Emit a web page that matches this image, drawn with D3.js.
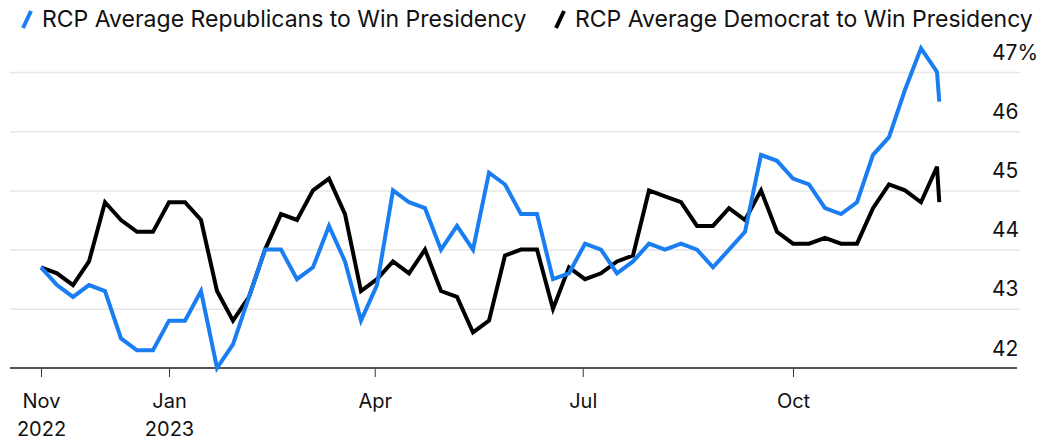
<!DOCTYPE html>
<html>
<head>
<meta charset="utf-8">
<script src="https://cdn.jsdelivr.net/npm/d3@7"></script>
<style>
  html, body { margin: 0; padding: 0; background: #fff; }
  svg { display: block; }
  text { font-family: Inter, "Liberation Sans", Arial, sans-serif; fill: #111; }
</style>
</head>
<body>
<svg id="chart" width="1057" height="441"></svg>
<script>
// Weekly RealClearPolitics polling averages, Nov 2022 – Dec 2023
const dates = [
  "2022-11-06","2022-11-13","2022-11-20","2022-11-27","2022-12-04","2022-12-11","2022-12-18","2022-12-25",
  "2023-01-01","2023-01-08","2023-01-15","2023-01-22","2023-01-29","2023-02-05","2023-02-12","2023-02-19",
  "2023-02-26","2023-03-05","2023-03-12","2023-03-19","2023-03-26","2023-04-02","2023-04-09","2023-04-16",
  "2023-04-23","2023-04-30","2023-05-07","2023-05-14","2023-05-21","2023-05-28","2023-06-04","2023-06-11",
  "2023-06-18","2023-06-25","2023-07-02","2023-07-09","2023-07-16","2023-07-23","2023-07-30","2023-08-06",
  "2023-08-13","2023-08-20","2023-08-27","2023-09-03","2023-09-10","2023-09-17","2023-09-24","2023-10-01",
  "2023-10-08","2023-10-15","2023-10-22","2023-10-29","2023-11-05","2023-11-12","2023-11-19","2023-11-26",
  "2023-12-03","2023-12-04"
];

const republicans = [
  43.7, 43.4, 43.2, 43.4, 43.3, 42.5, 42.3, 42.3,
  42.8, 42.8, 43.3, 42.0, 42.4, 43.2, 44.0, 44.0,
  43.5, 43.7, 44.4, 43.8, 42.8, 43.4, 45.0, 44.8,
  44.7, 44.0, 44.4, 44.0, 45.3, 45.1, 44.6, 44.6,
  43.5, 43.6, 44.1, 44.0, 43.6, 43.8, 44.1, 44.0,
  44.1, 44.0, 43.7, 44.0, 44.3, 45.6, 45.5, 45.2,
  45.1, 44.7, 44.6, 44.8, 45.6, 45.9, 46.7, 47.4,
  47.0, 46.5
];

const democrats = [
  43.7, 43.6, 43.4, 43.8, 44.8, 44.5, 44.3, 44.3,
  44.8, 44.8, 44.5, 43.3, 42.8, 43.2, 44.0, 44.6,
  44.5, 45.0, 45.2, 44.6, 43.3, 43.5, 43.8, 43.6,
  44.0, 43.3, 43.2, 42.6, 42.8, 43.9, 44.0, 44.0,
  43.0, 43.7, 43.5, 43.6, 43.8, 43.9, 45.0, 44.9,
  44.8, 44.4, 44.4, 44.7, 44.5, 45.0, 44.3, 44.1,
  44.1, 44.2, 44.1, 44.1, 44.7, 45.1, 45.0, 44.8,
  45.4, 44.8
];

const yTicks = [42, 43, 44, 45, 46, 47];
const xTickDates = ["2022-11-06", "2023-01-01", "2023-04-01", "2023-07-01", "2023-10-01"];
const xTickLabels = [["Nov", "2022"], ["Jan", "2023"], ["Apr"], ["Jul"], ["Oct"]];

const seriesNames = ["RCP Average Republicans to Win Presidency", "RCP Average Democrat to Win Presidency"];
const seriesColors = ["#1a7ef2", "#000000"];

const font = "Inter, 'Liberation Sans', Arial, sans-serif";
const parse = d3.utcParse("%Y-%m-%d");
const svg = d3.select("#chart");

const x = d3.scaleUtc()
  .domain([parse("2022-11-06"), parse("2023-10-01")])
  .range([41, 793]);
const y = d3.scaleLinear().domain([42, 47]).range([368, 72]);

// Horizontal gridlines with value labels sitting above each line
const yAxis = d3.axisRight(y)
  .tickValues(yTicks)
  .tickSize(1010)
  .tickFormat(d => d === 47 ? d + "%" : d);
const gy = svg.append("g").attr("transform", "translate(10,0)").call(yAxis);
gy.select(".domain").remove();
gy.selectAll(".tick line")
  .attr("stroke", d => d === 42 ? "none" : "#e6e6e6")
  .attr("stroke-width", 1.5);
gy.selectAll(".tick text")
  .attr("x", 982)
  .attr("dy", -13)
  .attr("text-anchor", "start")
  .style("font-size", "21px")
  .style("font-family", font)
  .attr("fill", "#111");

// Bottom axis
const xAxis = d3.axisBottom(x)
  .tickValues(xTickDates.map(parse))
  .tickSize(9)
  .tickFormat("");
const gx = svg.append("g").attr("transform", "translate(0,368)").call(xAxis);
gx.select(".domain").remove();
gx.selectAll(".tick line").attr("stroke", "#333").attr("stroke-width", 1);
svg.append("line")
  .attr("x1", 10).attr("x2", 1017)
  .attr("y1", y(42)).attr("y2", y(42))
  .attr("stroke", "#555").attr("stroke-width", 2);

gx.selectAll(".tick").each(function(d, i) {
  const t = d3.select(this).append("text")
    .attr("text-anchor", "middle")
    .style("font-size", "20px")
    .style("font-family", font)
    .attr("fill", "#111");
  xTickLabels[i].forEach((s, k) => {
    t.append("tspan").attr("x", 0).attr("y", 40 + k * 28).text(s);
  });
});

// Lines
const line = d3.line()
  .x(d => x(d.date))
  .y(d => y(d.value));

const series = [republicans, democrats].map((vals, s) => ({
  name: seriesNames[s],
  color: seriesColors[s],
  points: vals.map((v, i) => ({ date: parse(dates[i]), value: v }))
}));

svg.selectAll("path.series")
  .data(series.slice().reverse())
  .join("path")
  .attr("class", "series")
  .attr("fill", "none")
  .attr("stroke", d => d.color)
  .attr("stroke-width", 4)
  .attr("stroke-linejoin", "miter")
  .attr("d", d => line(d.points));

// Legend
const legendX = [20, 553];
const legend = svg.selectAll("g.legend")
  .data(series)
  .join("g")
  .attr("class", "legend")
  .attr("transform", (d, i) => `translate(${legendX[i]},0)`);
legend.append("line")
  .attr("x1", 3).attr("y1", 28)
  .attr("x2", 11).attr("y2", 11)
  .attr("stroke", d => d.color)
  .attr("stroke-width", 4);
legend.append("text")
  .attr("x", 22).attr("y", 27)
  .style("font-size", "23px")
  .style("font-family", font)
  .attr("fill", "#111")
  .text(d => d.name);
</script>
</body>
</html>
